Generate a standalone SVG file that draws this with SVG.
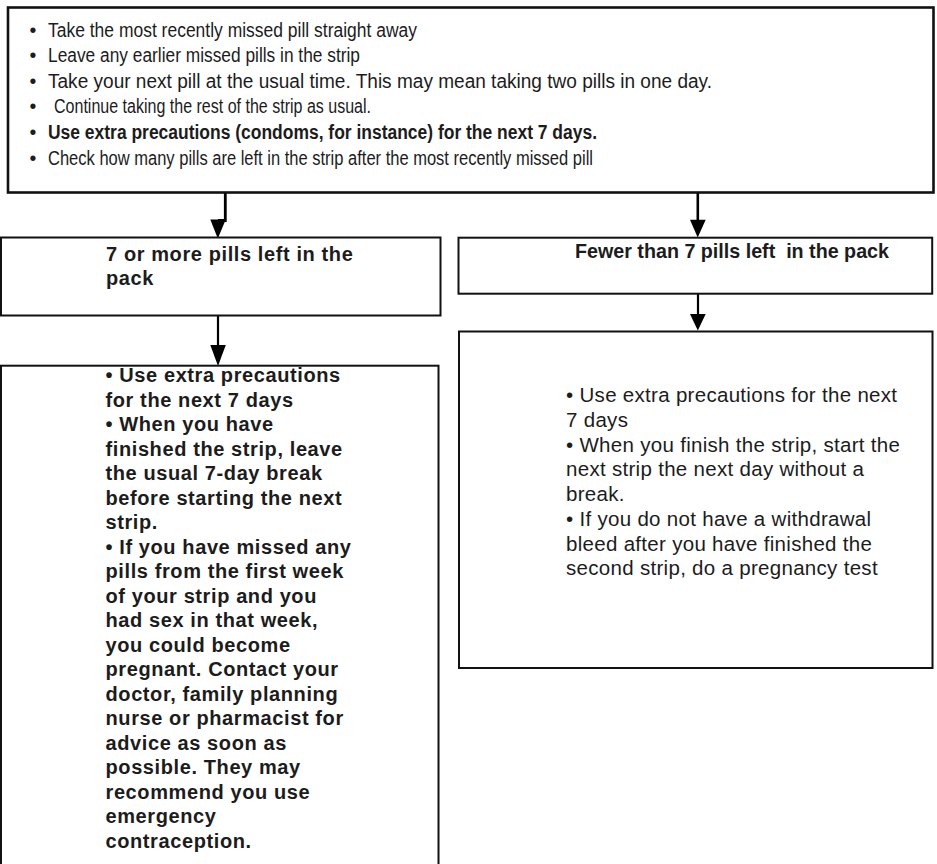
<svg xmlns="http://www.w3.org/2000/svg" width="937" height="864" viewBox="0 0 937 864">
<style>
.box{fill:#fff;stroke:#111;stroke-width:2}
.top{stroke-width:2.6}
.t{font-family:"Liberation Sans",Arial,sans-serif;fill:#1c1c1c;white-space:pre}
.tn{font-size:19.5px}
.tb{font-weight:bold}
.hb{font-size:20px;font-weight:bold;letter-spacing:0.6px}
.hr{font-size:19.7px;font-weight:bold}
.rb{font-size:20.5px;letter-spacing:0.3px}
.shaft{stroke:#000;fill:none}
.head{fill:#000}
</style>
<rect width="937" height="864" fill="#fff"/>
<g id="connectors">
  <polyline class="shaft" stroke-width="2.8" points="225.3,193 225.3,220.5 218,220.5"/>
  <polygon class="head" points="210.3,219.5 225.8,219.5 217.8,238.5"/>
  <line class="shaft" stroke-width="2.2" x1="218" y1="316" x2="218" y2="346"/>
  <polygon class="head" points="210.3,345 225.8,345 218,366"/>
  <line class="shaft" stroke-width="2.6" x1="697.8" y1="193" x2="697.8" y2="221"/>
  <polygon class="head" points="690,219.7 705.7,219.7 697.7,237.5"/>
  <line class="shaft" stroke-width="2.2" x1="698" y1="294" x2="698" y2="315"/>
  <polygon class="head" points="690,314 705.7,314 697.8,330.5"/>
</g>
<g id="node-start">
  <rect class="box top" x="8" y="7.5" width="925.5" height="185"/>
  <g class="t tn">
    <text x="29.5" y="36.5">•</text>
    <text x="48" y="36.5" textLength="369" lengthAdjust="spacingAndGlyphs">Take the most recently missed pill straight away</text>
    <text x="29.5" y="62">•</text>
    <text x="48" y="62" textLength="312" lengthAdjust="spacingAndGlyphs">Leave any earlier missed pills in the strip</text>
    <text x="29.5" y="87.7">•</text>
    <text x="48" y="87.7" textLength="664" lengthAdjust="spacingAndGlyphs">Take your next pill at the usual time. This may mean taking two pills in one day.</text>
    <text x="29.5" y="113.3">•</text>
    <text x="54" y="113.3" textLength="317" lengthAdjust="spacingAndGlyphs">Continue taking the rest of the strip as usual.</text>
    <text x="29.5" y="139">•</text>
    <text x="48" y="139" class="tb" textLength="549" lengthAdjust="spacingAndGlyphs">Use extra precautions (condoms, for instance) for the next 7 days.</text>
    <text x="29.5" y="164.5">•</text>
    <text x="48" y="164.5" textLength="545" lengthAdjust="spacingAndGlyphs">Check how many pills are left in the strip after the most recently missed pill</text>
  </g>
</g>
<g id="node-seven-or-more">
  <rect class="box" x="1" y="237.5" width="439.5" height="78"/>
  <g class="t hb">
    <text x="106" y="260.5">7 or more pills left in the</text>
    <text x="106" y="284.5">pack</text>
  </g>
</g>
<g id="node-fewer-than-seven">
  <rect class="box" x="458.5" y="237.7" width="473.7" height="56"/>
  <text class="t hr" x="575" y="258">Fewer than 7 pills left  in the pack</text>
</g>
<g id="node-seven-or-more-advice">
  <rect class="box" x="1" y="365.7" width="437.5" height="520"/>
  <g class="t hb">
    <text x="105.5" y="382">• Use extra precautions</text>
    <text x="105.5" y="406.5">for the next 7 days</text>
    <text x="105.5" y="431">• When you have</text>
    <text x="105.5" y="455.5">finished the strip, leave</text>
    <text x="105.5" y="480">the usual 7-day break</text>
    <text x="105.5" y="504.5">before starting the next</text>
    <text x="105.5" y="529">strip.</text>
    <text x="105.5" y="553.5">• If you have missed any</text>
    <text x="105.5" y="578">pills from the first week</text>
    <text x="105.5" y="602.5">of your strip and you</text>
    <text x="105.5" y="627">had sex in that week,</text>
    <text x="105.5" y="651.5">you could become</text>
    <text x="105.5" y="676">pregnant. Contact your</text>
    <text x="105.5" y="700.5">doctor, family planning</text>
    <text x="105.5" y="725">nurse or pharmacist for</text>
    <text x="105.5" y="749.5">advice as soon as</text>
    <text x="105.5" y="774">possible. They may</text>
    <text x="105.5" y="798.5">recommend you use</text>
    <text x="105.5" y="823">emergency</text>
    <text x="105.5" y="847.5">contraception.</text>
  </g>
</g>
<g id="node-fewer-than-seven-advice">
  <rect class="box" x="459" y="331.5" width="473.5" height="336.5"/>
  <g class="t rb">
    <text x="566" y="402.3">• Use extra precautions for the next</text>
    <text x="566" y="427">7 days</text>
    <text x="566" y="451.7">• When you finish the strip, start the</text>
    <text x="566" y="476.4">next strip the next day without a</text>
    <text x="566" y="501.1">break.</text>
    <text x="566" y="525.8">•  If you do not have a withdrawal</text>
    <text x="566" y="550.5">bleed after you have finished the</text>
    <text x="566" y="575.2">second strip, do a pregnancy test</text>
  </g>
</g>
</svg>
